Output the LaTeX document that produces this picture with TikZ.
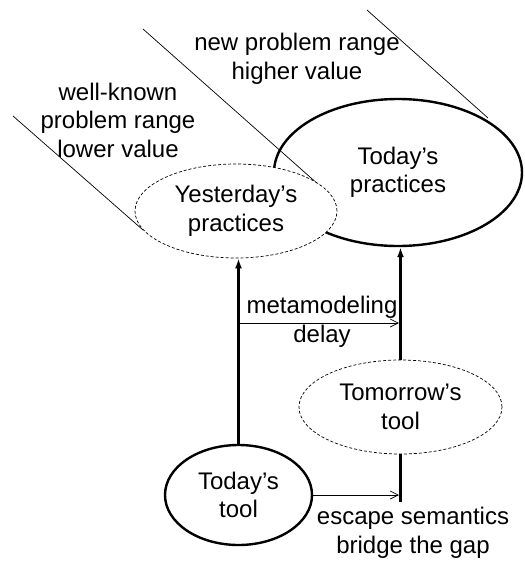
\documentclass[tikz,border=0pt]{standalone}
\usepackage{fontspec}
\setmainfont{Liberation Sans}
\usetikzlibrary{shapes.geometric,arrows.meta}
\begin{document}
\begin{tikzpicture}[x=1pt,y=-1pt,
  txt/.style={font=\fontsize{24}{28.5}\selectfont, align=center, inner sep=0pt},
  bubble/.style={ellipse, inner sep=0pt, txt},
  solid bubble/.style={bubble, draw, line width=2.4pt},
  dashed bubble/.style={bubble, draw, dash pattern=on 3pt off 2pt, line width=0.7pt, fill=white},
  lead/.style={line width=2.4pt, -{Latex[length=10pt,width=7pt]}},
  thin arrow/.style={line width=0.7pt, -{Straight Barb[length=8pt,width=8pt]}},
  hatch/.style={line width=0.7pt}]
\useasboundingbox (0,0) rectangle (525,563);

% oblique range boundaries
\coordinate (h1a) at (13,116);  \coordinate (h1b) at (143,230);
\coordinate (h2a) at (143,29);  \coordinate (h2b) at (328,193);
\coordinate (h3a) at (367,10);  \coordinate (h3b) at (488,118);
\draw[hatch] (h1a) -- (h1b);
\draw[hatch] (h2a) -- (h2b);
\draw[hatch] (h3a) -- (h3b);

% range labels
\node[txt] (wk)  at (118,120) {well-known\\problem range\\lower value};
\node[txt] (np)  at (297,59)  {new problem range\\higher value};

% practices
\node[solid bubble, minimum width=248pt, minimum height=147pt] (tp) at (398,172.5) {Today’s\\practices};
\node[dashed bubble, minimum width=202pt, minimum height=94pt] (yp) at (236,211) {Yesterday’s\\practices};

% tools
\node[dashed bubble, minimum width=203pt, minimum height=94pt] (tm) at (400.5,407) {Tomorrow’s\\tool};
\node[solid bubble, minimum width=147pt, minimum height=100pt] (tt) at (238.5,495) {Today’s\\tool};

% tools support practices
\draw[lead] (tt.north) -- (tt.north |- yp.south);
\draw[lead] (tm.north) -- (tm.north |- tp.south);

% metamodeling delay
\coordinate (m0) at (tt.north |- 0,323);
\coordinate (m1) at (399,323);
\draw[thin arrow] (m0) -- (m1);
\node[txt] (meta) at (322,322) {metamodeling\\delay};

% escape semantics
\coordinate (g1) at (tm.south |- 0,502);
\draw[line width=2.4pt] (tm.south) -- (g1);
\coordinate (g0) at (399,495);
\draw[thin arrow] (tt.east) -- (g0);
\node[txt] (esc) at (413,533) {escape semantics\\bridge the gap};
\end{tikzpicture}
\end{document}
